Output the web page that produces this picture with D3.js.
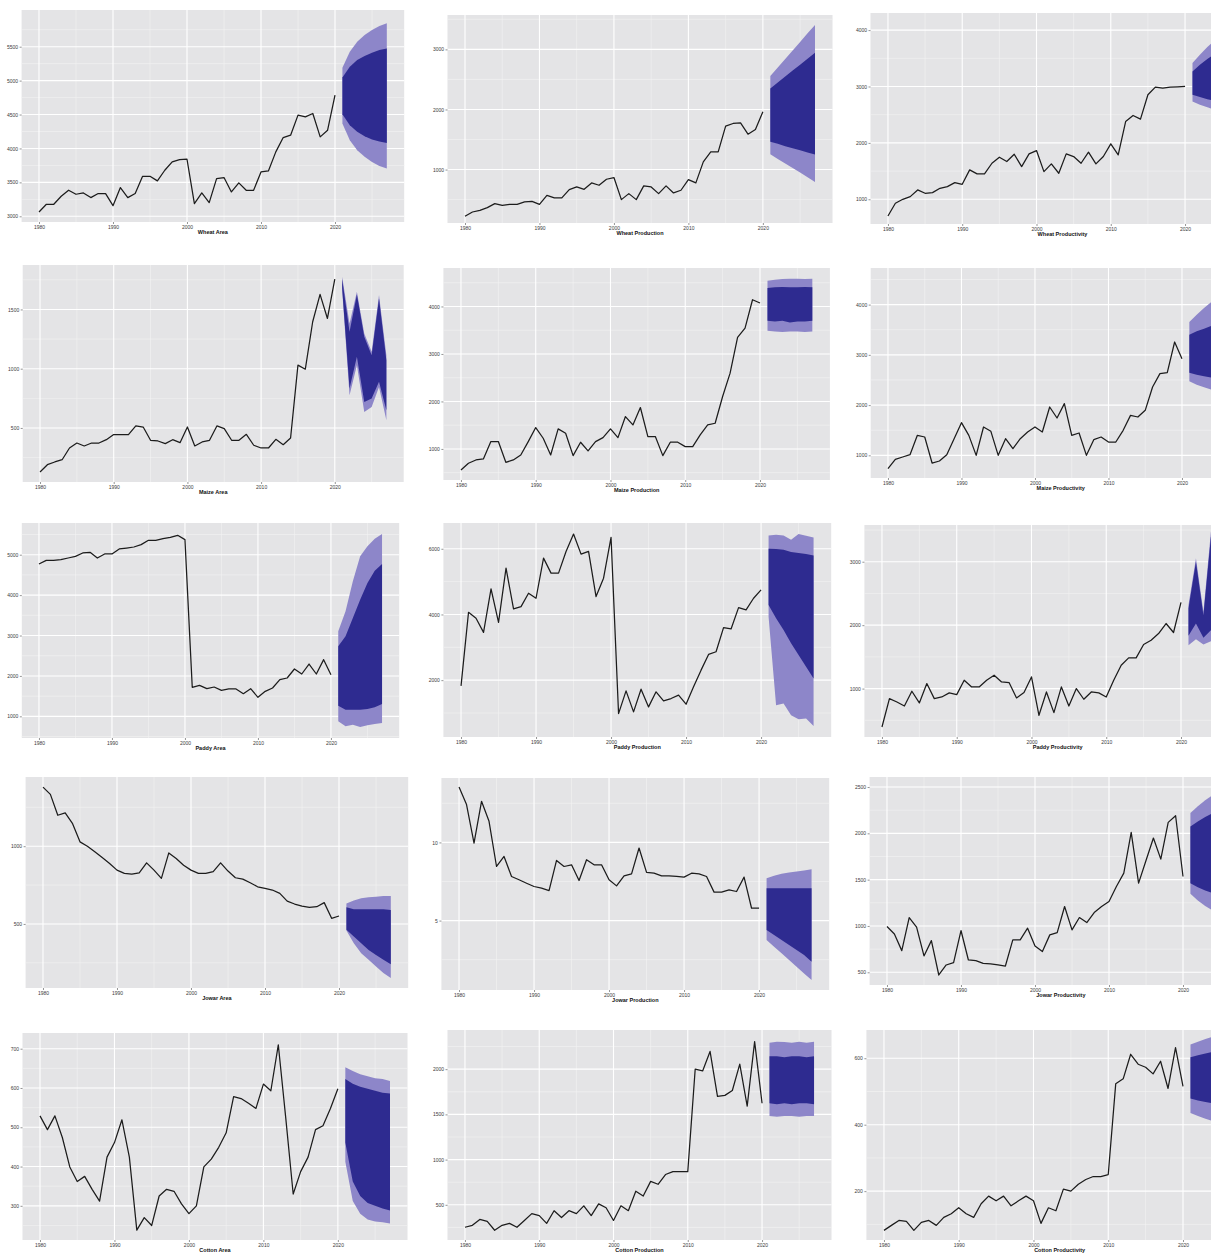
<!DOCTYPE html>
<html>
<head>
<meta charset="utf-8">
<script src="https://cdn.jsdelivr.net/npm/d3@7"></script>
<style>
  html, body { margin: 0; padding: 0; background: #ffffff; overflow: hidden; }
  svg { display: block; font-family: "Liberation Sans", "DejaVu Sans", Arial, sans-serif; }
</style>
</head>
<body>
<svg id="chart" width="1211" height="1255"></svg>
<script>
// Observed years and forecast horizon
const years = d3.range(1980, 2021);
const forecastYears = [2021, 2022, 2023, 2024, 2025, 2026, 2027];
const yearTicks = [1980, 1990, 2000, 2010, 2020];

// ---------- Wheat ----------
const wheatArea = [3064,3177,3177,3295,3384,3325,3344,3276,3335,3335,3157,3423,3276,3335,3590,3590,3522,3679,3802,3836,3841,3187,3344,3202,3556,3571,3359,3492,3384,3384,3654,3669,3950,4161,4196,4491,4466,4515,4171,4269,4786];
const wheatAreaHi95 = [5189,5426,5573,5672,5745,5804,5844];
const wheatAreaHi80 = [5047,5204,5303,5362,5411,5450,5475];
const wheatAreaLo80 = [4506,4343,4245,4181,4132,4102,4082];
const wheatAreaLo95 = [4368,4122,3974,3876,3802,3743,3704];
const wheatAreaTicks = [3000,3500,4000,4500,5000,5500];

const wheatProd = [222,294,322,367,433,406,422,422,461,472,422,572,528,528,667,711,672,778,739,839,867,500,600,500,728,711,600,728,611,656,833,778,1128,1294,1294,1722,1767,1778,1589,1667,1961];
const wheatProdHi95 = [2556,2700,2839,2983,3122,3267,3406];
const wheatProdHi80 = [2350,2450,2550,2650,2745,2845,2945];
const wheatProdLo80 = [1461,1428,1389,1356,1322,1283,1250];
const wheatProdLo95 = [1256,1178,1100,1028,950,872,794];
const wheatProdTicks = [1000,2000,3000];

const wheatYield = [704,929,1000,1047,1166,1107,1118,1195,1225,1296,1266,1521,1450,1450,1639,1746,1669,1799,1580,1805,1864,1491,1628,1462,1805,1758,1639,1835,1628,1758,1983,1787,2379,2486,2421,2853,2989,2971,2989,2995,3001];
const wheatYieldHi95 = [3415,3563,3700,3818,3924,4019,4114];
const wheatYieldHi80 = [3267,3386,3486,3581,3664,3741,3818];
const wheatYieldLo80 = [2853,2812,2776,2746,2723,2705,2687];
const wheatYieldLo95 = [2735,2676,2634,2587,2551,2516,2486];
const wheatYieldTicks = [1000,2000,3000,4000];

// ---------- Maize ----------
const maizeArea = [128,190,213,232,331,373,348,373,373,401,444,444,444,517,508,396,390,368,401,376,508,348,382,396,517,494,396,396,446,354,331,331,404,359,415,1030,996,1396,1627,1424,1756];
const maizeAreaHi95 = [1776,1382,1649,1297,1142,1621,1114];
const maizeAreaHi80 = [1756,1311,1627,1269,1114,1593,1072];
const maizeAreaLo80 = [1678,832,1100,720,748,889,649];
const maizeAreaLo95 = [1663,776,1030,635,677,846,565];
const maizeAreaTicks = [500,1000,1500];

const maizeProd = [557,698,768,789,1155,1155,719,768,873,1155,1450,1225,873,1422,1330,859,1141,958,1155,1239,1422,1239,1682,1506,1872,1260,1260,859,1141,1141,1049,1049,1295,1506,1541,2104,2596,3348,3545,4142,4072];
const maizeProdHi95 = [4543,4564,4578,4585,4585,4578,4585];
const maizeProdHi80 = [4388,4403,4410,4403,4403,4410,4403];
const maizeProdLo80 = [3700,3685,3700,3664,3685,3685,3700];
const maizeProdLo95 = [3489,3475,3461,3475,3475,3461,3475];
const maizeProdTicks = [1000,2000,3000,4000];

const maizeYield = [735,920,967,1013,1398,1365,847,887,1013,1332,1650,1398,1000,1564,1478,1000,1332,1133,1332,1465,1564,1465,1962,1743,2029,1398,1445,1000,1312,1365,1265,1265,1498,1796,1763,1896,2360,2626,2646,3256,2924];
const maizeYieldHi95 = [3654,3800,3933,4053,4159,4252,4345];
const maizeYieldHi80 = [3402,3469,3522,3575,3621,3668,3707];
const maizeYieldLo80 = [2646,2606,2573,2546,2520,2493,2473];
const maizeYieldLo95 = [2473,2407,2354,2307,2261,2221,2181];
const maizeYieldTicks = [1000,2000,3000,4000];

// ---------- Paddy ----------
const paddyArea = [4770,4861,4861,4878,4919,4960,5043,5059,4919,5018,5018,5142,5166,5191,5249,5356,5356,5397,5430,5480,5373,1718,1767,1685,1726,1644,1677,1677,1561,1685,1470,1619,1701,1908,1949,2172,2048,2295,2048,2403,2031];
const paddyAreaHi95 = [3104,3599,4341,4960,5208,5397,5513];
const paddyAreaHi80 = [2733,2980,3434,3888,4300,4605,4770];
const paddyAreaLo80 = [1264,1165,1165,1165,1182,1223,1305];
const paddyAreaLo95 = [876,752,794,736,777,810,835];
const paddyAreaTicks = [1000,2000,3000,4000,5000];

const paddyProd = [1827,4067,3883,3456,4779,3761,5410,4168,4240,4647,4494,5716,5258,5258,5919,6449,5838,5919,4545,5105,6347,982,1674,1033,1725,1186,1644,1369,1440,1542,1267,1796,2305,2784,2865,3598,3558,4209,4138,4494,4749];
const paddyProdHi95 = [6408,6428,6408,6276,6449,6398,6347];
const paddyProdHi80 = [6001,5991,5970,5899,5868,5838,5797];
const paddyProdLo80 = [4291,3883,3527,3120,2764,2407,2051];
const paddyProdLo95 = [3934,1237,1287,931,809,829,605];
const paddyProdTicks = [2000,4000,6000];

const paddyYield = [395,842,789,726,958,774,1079,842,868,932,905,1132,1026,1026,1132,1211,1105,1095,853,937,1184,579,947,621,1026,726,1000,832,947,932,868,1132,1368,1484,1484,1695,1763,1868,2026,1884,2358];
const paddyYieldHi95 = [2316,3053,2210,3474,2684,3316,2579];
const paddyYieldHi80 = [2263,3000,2158,3395,2632,3263,2500];
const paddyYieldLo80 = [1832,2026,1800,1921,1779,1947,1747];
const paddyYieldLo95 = [1684,1779,1695,1747,1658,1737,1632];
const paddyYieldTicks = [1000,2000,3000];

// ---------- Jowar ----------
const jowarArea = [1380,1333,1199,1214,1145,1028,1000,964,927,889,846,825,821,829,893,846,793,957,921,878,846,825,825,836,893,840,797,788,765,739,729,718,697,647,628,615,607,611,637,536,551];
const jowarAreaHi95 = [632,650,665,671,675,680,680];
const jowarAreaHi80 = [607,594,594,594,594,594,590];
const jowarAreaLo80 = [462,419,376,333,301,269,241];
const jowarAreaLo95 = [457,376,312,269,226,184,152];
const jowarAreaTicks = [500,1000];

const jowarProd = [13.55,12.42,9.96,12.63,11.35,8.46,9.10,7.82,7.61,7.39,7.18,7.07,6.92,8.85,8.46,8.57,7.56,8.89,8.57,8.57,7.61,7.22,7.86,7.99,9.64,8.08,8.03,7.86,7.86,7.82,7.78,8.03,7.99,7.82,6.82,6.82,6.97,6.86,7.78,5.79,5.79];
const jowarProdHi95 = [7.71,7.86,7.99,8.08,8.14,8.21,8.29];
const jowarProdHi80 = [7.07,7.07,7.07,7.07,7.07,7.07,7.07];
const jowarProdLo80 = [4.40,4.08,3.76,3.44,3.12,2.80,2.37];
const jowarProdLo95 = [3.76,3.33,2.91,2.48,2.05,1.62,1.20];
const jowarProdTicks = [5,10];

const jowarYield = [994,914,734,1091,987,677,842,471,579,605,951,633,626,597,590,579,568,850,850,976,785,724,904,929,1210,958,1091,1037,1145,1210,1264,1426,1570,2010,1462,1707,1949,1722,2118,2190,1534];
const jowarYieldHi95 = [2219,2291,2356,2414,2464,2507,2543];
const jowarYieldHi80 = [2075,2129,2176,2219,2255,2291,2320];
const jowarYieldLo80 = [1462,1419,1383,1354,1329,1307,1289];
const jowarYieldLo95 = [1347,1275,1217,1167,1123,1084,1048];
const jowarYieldTicks = [500,1000,1500,2000,2500];

// ---------- Cotton ----------
const cottonArea = [529,494,529,474,399,362,375,342,312,424,461,519,424,238,270,250,325,342,337,305,280,300,399,419,449,486,578,573,561,548,610,593,710,524,330,387,424,494,504,548,598];
const cottonAreaHi95 = [653,643,635,630,625,623,618];
const cottonAreaHi80 = [623,611,603,598,593,588,586];
const cottonAreaLo80 = [461,362,325,307,300,293,288];
const cottonAreaLo95 = [412,312,280,265,260,258,255];
const cottonAreaTicks = [300,400,500,600,700];

const cottonProd = [252,273,338,316,219,273,295,252,327,403,381,295,435,360,435,403,489,381,511,468,327,489,435,651,597,759,727,835,867,867,867,2001,1980,2196,1699,1710,1764,2055,1591,2304,1623];
const cottonProdHi95 = [2293,2304,2300,2293,2304,2293,2304];
const cottonProdHi80 = [2142,2142,2131,2142,2142,2131,2142];
const cottonProdLo80 = [1623,1613,1623,1613,1623,1623,1613];
const cottonProdLo95 = [1483,1473,1483,1483,1473,1483,1483];
const cottonProdTicks = [500,1000,1500,2000];

const cottonYield = [82,97,112,109,82,106,112,97,121,132,150,132,121,162,185,171,185,156,171,185,171,103,150,141,206,200,221,235,244,244,250,523,538,612,582,573,553,591,509,632,515];
const cottonYieldHi95 = [641,650,658,665,672,678,684];
const cottonYieldHi80 = [603,609,614,619,623,627,631];
const cottonYieldLo80 = [479,473,468,464,460,456,452];
const cottonYieldLo95 = [435,426,418,411,405,399,393];
const cottonYieldTicks = [200,400,600];

// One entry per panel, read row by row
const panels = [
  { title: "Wheat Area",         obs: wheatArea,  hi95: wheatAreaHi95,  hi80: wheatAreaHi80,  lo80: wheatAreaLo80,  lo95: wheatAreaLo95,  ticks: wheatAreaTicks },
  { title: "Wheat Production",   obs: wheatProd,  hi95: wheatProdHi95,  hi80: wheatProdHi80,  lo80: wheatProdLo80,  lo95: wheatProdLo95,  ticks: wheatProdTicks },
  { title: "Wheat Productivity", obs: wheatYield, hi95: wheatYieldHi95, hi80: wheatYieldHi80, lo80: wheatYieldLo80, lo95: wheatYieldLo95, ticks: wheatYieldTicks },
  { title: "Maize Area",         obs: maizeArea,  hi95: maizeAreaHi95,  hi80: maizeAreaHi80,  lo80: maizeAreaLo80,  lo95: maizeAreaLo95,  ticks: maizeAreaTicks },
  { title: "Maize Production",   obs: maizeProd,  hi95: maizeProdHi95,  hi80: maizeProdHi80,  lo80: maizeProdLo80,  lo95: maizeProdLo95,  ticks: maizeProdTicks },
  { title: "Maize Productivity", obs: maizeYield, hi95: maizeYieldHi95, hi80: maizeYieldHi80, lo80: maizeYieldLo80, lo95: maizeYieldLo95, ticks: maizeYieldTicks },
  { title: "Paddy Area",         obs: paddyArea,  hi95: paddyAreaHi95,  hi80: paddyAreaHi80,  lo80: paddyAreaLo80,  lo95: paddyAreaLo95,  ticks: paddyAreaTicks },
  { title: "Paddy Production",   obs: paddyProd,  hi95: paddyProdHi95,  hi80: paddyProdHi80,  lo80: paddyProdLo80,  lo95: paddyProdLo95,  ticks: paddyProdTicks },
  { title: "Paddy Productivity", obs: paddyYield, hi95: paddyYieldHi95, hi80: paddyYieldHi80, lo80: paddyYieldLo80, lo95: paddyYieldLo95, ticks: paddyYieldTicks },
  { title: "Jowar Area",         obs: jowarArea,  hi95: jowarAreaHi95,  hi80: jowarAreaHi80,  lo80: jowarAreaLo80,  lo95: jowarAreaLo95,  ticks: jowarAreaTicks },
  { title: "Jowar Production",   obs: jowarProd,  hi95: jowarProdHi95,  hi80: jowarProdHi80,  lo80: jowarProdLo80,  lo95: jowarProdLo95,  ticks: jowarProdTicks },
  { title: "Jowar Productivity", obs: jowarYield, hi95: jowarYieldHi95, hi80: jowarYieldHi80, lo80: jowarYieldLo80, lo95: jowarYieldLo95, ticks: jowarYieldTicks },
  { title: "Cotton Area",        obs: cottonArea, hi95: cottonAreaHi95, hi80: cottonAreaHi80, lo80: cottonAreaLo80, lo95: cottonAreaLo95, ticks: cottonAreaTicks },
  { title: "Cotton Production",  obs: cottonProd, hi95: cottonProdHi95, hi80: cottonProdHi80, lo80: cottonProdLo80, lo95: cottonProdLo95, ticks: cottonProdTicks },
  { title: "Cotton Productivity",obs: cottonYield,hi95: cottonYieldHi95,hi80: cottonYieldHi80,lo80: cottonYieldLo80,lo95: cottonYieldLo95,ticks: cottonYieldTicks }
];

// Panel boxes [left, top, width, height] and y-axis limits
const boxes = [
  [21.6, 10, 382.6, 212], [447.5, 15, 385, 208],   [870.5, 13, 384, 211],
  [22.7, 265, 381, 217],  [443.4, 268, 386.5, 212], [870.7, 268, 380, 210],
  [21.8, 523, 377.4, 215],[443.4, 523, 387.8, 214], [864.4, 525, 386.5, 212],
  [25.6, 777, 382.6, 211],[441.4, 778, 387.8, 212], [869.6, 777, 382.6, 208],
  [22.5, 1033, 385, 207], [447.5, 1030, 384, 210],  [866.4, 1030, 386.5, 210]
];
const yLimits = [
  [2916, 6041], [111, 3572], [562, 4303],
  [44, 1875],   [346, 4810], [549, 4729],
  [464, 5785],  [269, 6785], [237, 3579],
  [88, 1445],   [0.56, 14.12], [363, 2608],
  [213, 740],   [111, 2433], [53, 685]
];
// x limits: 1980-2027 with 5% expansion on each side
const xLimits = [1977.65, 2029.35];
const xMinorBreaks = [1975, 1985, 1995, 2005, 2015, 2025];

const COLORS = { bg: "#E4E4E6", band95: "#8D86C9", band80: "#2E2B90", line: "#1c1c1c", text: "#3a3a3a" };

const svg = d3.select("#chart");
const defs = svg.append("defs");

panels.forEach((p, i) => {
  const [left, top, w, h] = boxes[i];
  const x = d3.scaleLinear().domain(xLimits).range([0, w]);
  const y = d3.scaleLinear().domain(yLimits[i]).range([h, 0]);

  const g = svg.append("g").attr("transform", `translate(${left},${top})`);

  defs.append("clipPath").attr("id", `clip${i}`)
    .append("rect").attr("width", w).attr("height", h);

  g.append("rect").attr("width", w).attr("height", h).attr("fill", COLORS.bg);

  // Minor grid (half-way between major breaks)
  const step = p.ticks.length > 1 ? p.ticks[1] - p.ticks[0] : p.ticks[0];
  const yMinor = [p.ticks[0] - step / 2, ...p.ticks.map(t => t + step / 2)]
    .filter(v => v > yLimits[i][0] && v < yLimits[i][1]);
  const grid = g.append("g");
  grid.selectAll(".ymin").data(yMinor).join("line")
    .attr("x1", 0).attr("x2", w).attr("y1", d => y(d)).attr("y2", d => y(d))
    .attr("stroke", "#F3F3F4").attr("stroke-width", 0.6);
  grid.selectAll(".xmin").data(xMinorBreaks.filter(v => v > xLimits[0] && v < xLimits[1])).join("line")
    .attr("y1", 0).attr("y2", h).attr("x1", d => x(d)).attr("x2", d => x(d))
    .attr("stroke", "#F3F3F4").attr("stroke-width", 0.6);
  // Major grid
  grid.selectAll(".ymaj").data(p.ticks).join("line")
    .attr("x1", 0).attr("x2", w).attr("y1", d => y(d)).attr("y2", d => y(d))
    .attr("stroke", "#ffffff").attr("stroke-width", 1.1);
  grid.selectAll(".xmaj").data(yearTicks).join("line")
    .attr("y1", 0).attr("y2", h).attr("x1", d => x(d)).attr("x2", d => x(d))
    .attr("stroke", "#ffffff").attr("stroke-width", 1.1);

  const plot = g.append("g").attr("clip-path", `url(#clip${i})`);

  // Forecast fan: 95% interval under the 80% interval
  const fc = forecastYears.map((yr, k) => ({ yr, hi95: p.hi95[k], hi80: p.hi80[k], lo80: p.lo80[k], lo95: p.lo95[k] }));
  plot.append("path").datum(fc)
    .attr("fill", COLORS.band95)
    .attr("d", d3.area().x(d => x(d.yr)).y0(d => y(d.lo95)).y1(d => y(d.hi95)));
  plot.append("path").datum(fc)
    .attr("fill", COLORS.band80)
    .attr("d", d3.area().x(d => x(d.yr)).y0(d => y(d.lo80)).y1(d => y(d.hi80)));

  // Observed series
  const obs = years.map((yr, k) => ({ yr, v: p.obs[k] }));
  plot.append("path").datum(obs)
    .attr("fill", "none").attr("stroke", COLORS.line).attr("stroke-width", 1.25)
    .attr("stroke-linejoin", "round")
    .attr("d", d3.line().x(d => x(d.yr)).y(d => y(d.v)));

  // Axes
  const fmt = d3.format("d");
  const yAxis = g.append("g")
    .call(d3.axisLeft(y).tickValues(p.ticks).tickFormat(fmt).tickSize(2).tickPadding(1.5));
  const xAxis = g.append("g").attr("transform", `translate(0,${h})`)
    .call(d3.axisBottom(x).tickValues(yearTicks).tickFormat(fmt).tickSize(2).tickPadding(1.5));
  [yAxis, xAxis].forEach(ax => {
    ax.select(".domain").remove();
    ax.selectAll(".tick line").attr("stroke", "#4d4d4d").attr("stroke-width", 0.6);
    ax.selectAll(".tick text").attr("fill", COLORS.text).style("font-size", "5px");
  });

  // Axis title under each panel
  g.append("text")
    .attr("x", w / 2).attr("y", h + 12.2)
    .attr("text-anchor", "middle")
    .style("font-size", "5.5px").style("font-weight", "bold").attr("fill", "#111")
    .text(p.title);
});
</script>
</body>
</html>
